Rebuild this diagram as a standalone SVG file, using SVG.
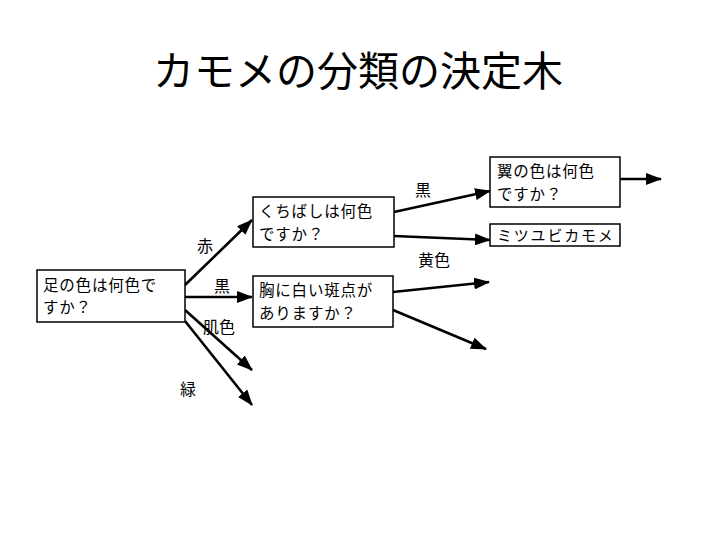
<svg xmlns="http://www.w3.org/2000/svg" width="720" height="540" viewBox="0 0 720 540">
<style>
text{font-family:"Noto Sans CJK JP","Noto Sans CJK SC",sans-serif;fill:#000}
.title{font-size:41px}
.t{font-size:15.5px;letter-spacing:0.8px}
.lbl{font-size:16px}
.box{fill:#fff;stroke:#000;stroke-width:1.5}
.c{stroke:#000;stroke-width:2.6;fill:none;marker-end:url(#ah)}
</style>
<defs>
<marker id="ah" markerUnits="userSpaceOnUse" markerWidth="16" markerHeight="12" refX="15" refY="6" orient="auto">
<path d="M0,0 L16,6 L0,12 Z" fill="#000"/>
</marker>
</defs>
<rect width="720" height="540" fill="#fff"/>
<text class="title" x="358" y="86" text-anchor="middle">カモメの分類の決定木</text>

<g id="connectors">
<line class="c" x1="185" y1="285" x2="252" y2="220"/>
<line class="c" x1="185" y1="297" x2="252" y2="297"/>
<line class="c" x1="185" y1="310" x2="252" y2="370"/>
<line class="c" x1="185" y1="321" x2="252" y2="405"/>
<line class="c" x1="394" y1="212" x2="490" y2="191"/>
<line class="c" x1="394" y1="236" x2="490" y2="240"/>
<line class="c" x1="393" y1="292" x2="489" y2="282"/>
<line class="c" x1="393" y1="310" x2="486" y2="349"/>
<line class="c" x1="620" y1="179" x2="661" y2="179"/>
<text class="lbl" x="197" y="252">赤</text>
<text class="lbl" x="214" y="292">黒</text>
<text class="lbl" x="203" y="333">肌色</text>
<text class="lbl" x="180" y="395">緑</text>
<text class="lbl" x="415" y="196">黒</text>
<text class="lbl" x="418" y="266">黄色</text>
</g>

<g id="n1">
<rect class="box" x="37" y="270" width="148" height="52"/>
<text class="t" x="43" y="291">足の色は何色で</text>
<text class="t" x="43" y="313">すか？</text>
</g>
<g id="n2">
<rect class="box" x="253" y="197" width="141" height="50"/>
<text class="t" x="259" y="217">くちばしは何色</text>
<text class="t" x="259" y="240">ですか？</text>
</g>
<g id="n3">
<rect class="box" x="253" y="276" width="140" height="51"/>
<text class="t" x="259" y="296">胸に白い斑点が</text>
<text class="t" x="259" y="319">ありますか？</text>
</g>
<g id="n4">
<rect class="box" x="490" y="157" width="130" height="50"/>
<text class="t" x="497" y="177">翼の色は何色</text>
<text class="t" x="497" y="200">ですか？</text>
</g>
<g id="n5">
<rect class="box" x="490" y="224" width="130" height="22"/>
<text class="t" x="497" y="241" style="font-size:15px;letter-spacing:1.8px">ミツユビカモメ</text>
</g>
</svg>
